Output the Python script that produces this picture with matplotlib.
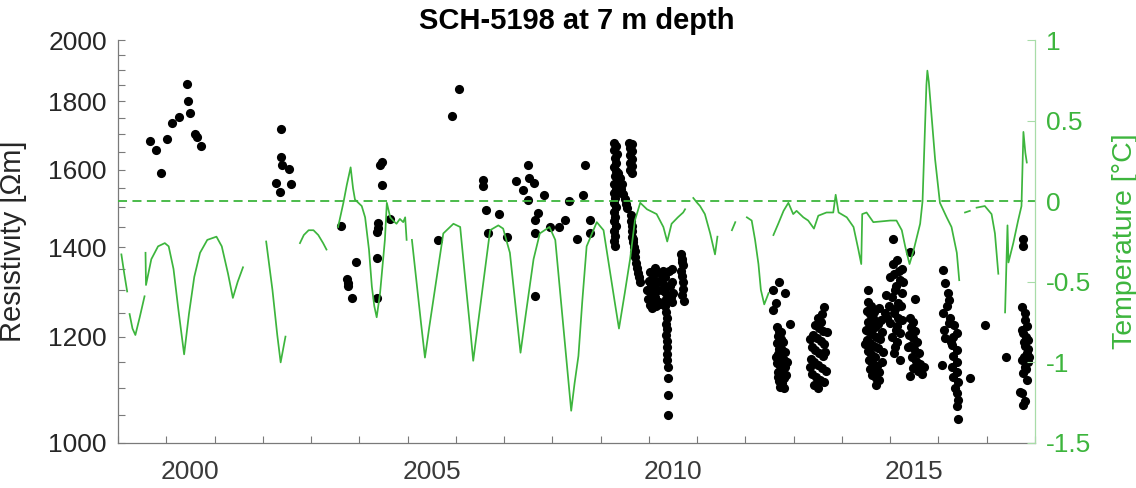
import numpy as np
import matplotlib
matplotlib.use('Agg')
import matplotlib.pyplot as plt
from matplotlib.ticker import NullFormatter

plt.rcParams['font.family'] = ['Liberation Sans', 'DejaVu Sans']

nan = np.nan

# --- temperature at 7 m (right axis), NaN marks logger gaps ---
temp_year = [
    1999.07, 1999.13, 1999.19, nan,
    1999.24, 1999.30, 1999.36, 1999.45, 1999.55, nan,
    1999.57, 1999.58, 1999.69, 1999.83, 1999.97, 2000.05, 2000.15, 2000.25, 2000.37, 2000.47,
    2000.58, 2000.70, 2000.85, 2001.04, 2001.15, 2001.28, 2001.38, 2001.48, 2001.59, nan,
    2002.07, 2002.20, 2002.30, 2002.37, 2002.42, 2002.47, nan,
    2002.77, 2002.85, 2002.95, 2003.05, 2003.15, 2003.25, 2003.32, nan,
    2003.56, 2003.67, 2003.74, 2003.82, 2003.87, 2003.91, 2004.05, 2004.12, 2004.20, 2004.26, 2004.31,
    2004.36, 2004.43, 2004.53, 2004.57, 2004.64, 2004.70, 2004.77, 2004.84, 2004.91, 2004.95, 2004.98, nan,
    2005.09, 2005.20, 2005.28, 2005.36, 2005.45, 2005.58, 2005.74, 2005.95,
    2006.09, 2006.20, 2006.30, 2006.36, 2006.45, 2006.58, 2006.71, 2006.88,
    2006.98, 2007.12, 2007.25, 2007.34, 2007.45, 2007.61, 2007.74, 2007.94,
    2008.06, 2008.20, 2008.32, 2008.39, 2008.46, 2008.54, 2008.62, 2008.71,
    2008.92, 2009.06, 2009.20, 2009.30, 2009.38, 2009.50, 2009.61, 2009.71,
    2009.82, 2009.96, 2010.16, 2010.30, 2010.38, 2010.47, 2010.60, 2010.71, 2010.75, nan,
    2010.92, 2011.00, 2011.06, 2011.16, 2011.27, 2011.37, 2011.42, nan,
    2011.72, 2011.79, nan,
    2012.03, 2012.13, 2012.20, 2012.27, 2012.32, 2012.39, 2012.48, nan,
    2012.58, 2012.68, 2012.79, 2012.89, 2012.99, 2013.06, 2013.20, 2013.30,
    2013.42, 2013.51, 2013.68, 2013.82, 2013.87, 2013.93, 2014.10, 2014.24,
    2014.34, 2014.40, 2014.42, 2014.51, 2014.65, 2015.00, 2015.13, 2015.24,
    2015.31, 2015.40, 2015.48, 2015.62, 2015.67, 2015.71, 2015.75, 2015.77,
    2015.80, 2015.86, 2015.93, 2016.03, 2016.17, 2016.27, 2016.38, 2016.43, nan,
    2016.55, 2016.65, nan,
    2016.79, 2016.96, 2017.10, 2017.17, 2017.24, nan,
    2017.38, 2017.43, 2017.45, 2017.55, 2017.65, 2017.72, 2017.76, 2017.80, 2017.83,
]
temp_val = [
    -0.33, -0.45, -0.56, nan,
    -0.70, -0.79, -0.83, -0.72, -0.59, nan,
    -0.32, -0.52, -0.36, -0.28, -0.26, -0.28, -0.42, -0.67, -0.95, -0.70,
    -0.47, -0.32, -0.24, -0.22, -0.28, -0.45, -0.60, -0.50, -0.41, nan,
    -0.25, -0.55, -0.83, -1.00, -0.92, -0.84, nan,
    -0.26, -0.21, -0.18, -0.18, -0.21, -0.26, -0.30, nan,
    -0.16, -0.01, 0.10, 0.21, 0.08, 0.01, -0.03, -0.10, -0.30, -0.53, -0.65,
    -0.72, -0.57, -0.24, -0.01, -0.10, -0.12, -0.14, -0.11, -0.13, -0.10, -0.24, nan,
    -0.24, -0.54, -0.76, -0.97, -0.78, -0.52, -0.20, -0.14,
    -0.16, -0.50, -0.80, -0.99, -0.78, -0.48, -0.18, -0.15,
    -0.17, -0.32, -0.69, -0.94, -0.70, -0.36, -0.20, -0.16,
    -0.24, -0.69, -1.08, -1.30, -1.13, -0.96, -0.62, -0.28,
    -0.13, -0.18, -0.45, -0.64, -0.79, -0.57, -0.36, -0.12,
    -0.01, -0.05, -0.08, -0.16, -0.25, -0.14, -0.10, -0.07, -0.05, nan,
    0.02, -0.01, -0.03, -0.08, -0.20, -0.33, -0.22, nan,
    -0.18, -0.13, nan,
    -0.10, -0.12, -0.24, -0.39, -0.55, -0.64, -0.57, nan,
    -0.21, -0.14, -0.06, -0.01, -0.08, -0.06, -0.10, -0.12,
    -0.17, -0.09, -0.07, -0.07, 0.04, -0.07, -0.10, -0.16,
    -0.30, -0.39, -0.08, -0.07, -0.13, -0.12, -0.12, -0.18,
    -0.28, -0.39, -0.31, -0.14, 0.00, 0.35, 0.72, 0.81,
    0.74, 0.52, 0.26, -0.01, -0.10, -0.16, -0.32, -0.49, nan,
    -0.07, -0.06, nan,
    -0.04, -0.03, -0.08, -0.20, -0.45, nan,
    -0.69, -0.15, -0.38, -0.26, -0.12, -0.03, 0.43, 0.30, 0.24,
]

# --- apparent resistivity (left axis, log) ---
sparse_year = [1999.67, 1999.79, 1999.90, 2000.02, 2000.12, 2000.26, 2000.42, 2000.45, 2000.50, 2000.59, 2000.64, 2000.73,
               2002.28, 2002.35, 2002.38, 2002.38, 2002.39, 2002.54, 2002.59,
               2003.63, 2003.74, 2003.76, 2003.76, 2003.84, 2003.93,
               2004.36, 2004.36, 2004.37, 2004.39, 2004.39, 2004.43, 2004.48, 2004.48, 2004.64,
               2005.64, 2005.93, 2006.07, 2006.57, 2006.57, 2006.62, 2006.67, 2006.90, 2007.05,
               2007.25, 2007.40, 2007.50, 2007.52, 2007.61, 2007.50, 2007.83, 2007.71, 2007.64, 2007.63, 2007.64,
               2007.95, 2008.14, 2008.26, 2008.35, 2008.50, 2008.68, 2008.64, 2008.77, 2008.78]
sparse_res = [1682, 1655, 1592, 1687, 1734, 1753, 1855, 1802, 1763, 1701, 1694, 1666,
              1564, 1540, 1715, 1636, 1612, 1602, 1562,
              1452, 1327, 1317, 1309, 1284, 1366,
              1374, 1284, 1437, 1459, 1447, 1614, 1622, 1559, 1471,
              1419, 1755, 1838, 1572, 1556, 1493, 1434, 1482, 1426,
              1568, 1545, 1614, 1577, 1564, 1519, 1532, 1486, 1467, 1434, 1287,
              1451, 1451, 1467, 1517, 1421, 1614, 1532, 1467, 1434]

c2009_year = [2009.27, 2009.31, 2009.28, 2009.33, 2009.29, 2009.32, 2009.27, 2009.31, 2009.29, 2009.33, 2009.28, 2009.31,
              2009.27, 2009.30, 2009.28, 2009.31, 2009.27, 2009.30, 2009.28, 2009.31, 2009.27, 2009.30, 2009.28, 2009.29,
              2009.59, 2009.64, 2009.61, 2009.65, 2009.60, 2009.64, 2009.61, 2009.65, 2009.60, 2009.64,
              2009.37, 2009.40, 2009.44, 2009.42, 2009.47, 2009.50, 2009.53, 2009.55, 2009.35, 2009.38,
              2009.62, 2009.63, 2009.64, 2009.65, 2009.66, 2009.67, 2009.69, 2009.70, 2009.72, 2009.74, 2009.76, 2009.78,
              2009.80, 2009.82, 2009.68, 2009.71]
c2009_res = [1676, 1668, 1655, 1645, 1632, 1620, 1608, 1596, 1584, 1572, 1560, 1548,
             1536, 1524, 1512, 1500, 1488, 1476, 1464, 1452, 1440, 1428, 1416, 1404,
             1676, 1672, 1660, 1652, 1640, 1630, 1618, 1610, 1598, 1590,
             1592, 1578, 1562, 1548, 1535, 1522, 1508, 1498, 1570, 1540,
             1480, 1466, 1452, 1440, 1426, 1412, 1400, 1388, 1376, 1364, 1352, 1340,
             1330, 1320, 1420, 1392]

c2010_year = [2009.97, 2009.99, 2010.00, 2010.02, 2010.03, 2010.05, 2010.07, 2010.08, 2010.10, 2010.12,
              2010.13, 2010.15, 2010.17, 2010.18, 2010.20, 2010.21, 2010.04, 2010.11, 2010.16, 2010.06,
              2010.30, 2010.33, 2010.31, 2010.34, 2010.35, 2010.33, 2010.36, 2010.37, 2010.35, 2010.38,
              2010.36, 2010.38, 2010.37, 2010.38, 2010.38, 2010.39, 2010.39, 2010.39, 2010.40,
              2010.26, 2010.28, 2010.24, 2010.42, 2010.44, 2010.46, 2010.47, 2010.48, 2010.49, 2010.47,
              2010.66, 2010.68, 2010.70, 2010.67, 2010.69, 2010.71, 2010.70, 2010.68, 2010.72, 2010.69]
c2010_res = [1300, 1280, 1322, 1268, 1342, 1295, 1262, 1332, 1310, 1352,
             1286, 1265, 1342, 1300, 1322, 1275, 1310, 1290, 1320, 1280,
             1345, 1330, 1312, 1296, 1282, 1266, 1252, 1240, 1228, 1216,
             1204, 1192, 1180, 1166, 1153, 1139, 1118, 1086, 1049,
             1340, 1300, 1270, 1345, 1310, 1285, 1350, 1320, 1295, 1275,
             1385, 1372, 1358, 1345, 1332, 1318, 1304, 1290, 1276, 1365]

c2012_year = [2012.70, 2012.57, 2012.82, 2012.63, 2012.57, 2012.92,
              2012.66, 2012.70, 2012.68, 2012.73, 2012.66, 2012.71, 2012.76, 2012.68, 2012.73, 2012.79,
              2012.66, 2012.71, 2012.76, 2012.68, 2012.74, 2012.79, 2012.70, 2012.76, 2012.72, 2012.80,
              2012.69, 2012.75, 2012.82, 2012.78, 2012.64, 2012.84, 2012.81, 2012.67, 2012.74, 2012.86]
c2012_res = [1319, 1301, 1294, 1273, 1257, 1227,
             1220, 1212, 1203, 1196, 1188, 1180, 1174, 1166, 1160, 1154,
             1148, 1142, 1136, 1130, 1124, 1119, 1113, 1108, 1102, 1100,
             1176, 1150, 1140, 1190, 1160, 1125, 1170, 1120, 1210, 1150]

c2013_year = [2013.63, 2013.58, 2013.50, 2013.56, 2013.44, 2013.52, 2013.60, 2013.40, 2013.48, 2013.56,
              2013.63, 2013.37, 2013.45, 2013.53, 2013.61, 2013.35, 2013.43, 2013.51, 2013.59, 2013.66,
              2013.38, 2013.46, 2013.54, 2013.62, 2013.42, 2013.50, 2013.34, 2013.65, 2013.33, 2013.68]
c2013_res = [1263, 1248, 1240, 1232, 1225, 1218, 1212, 1205, 1198, 1192,
             1186, 1180, 1174, 1168, 1162, 1156, 1150, 1144, 1138, 1132,
             1126, 1120, 1114, 1110, 1104, 1100, 1140, 1170, 1195, 1210]

c2014_year = [2014.55, 2014.55, 2014.52, 2014.58, 2014.64, 2014.53, 2014.60, 2014.68, 2014.55, 2014.62,
              2014.70, 2014.52, 2014.58, 2014.66, 2014.74, 2014.54, 2014.61, 2014.69, 2014.56, 2014.63,
              2014.72, 2014.58, 2014.66, 2014.62, 2014.70, 2014.70, 2014.76, 2014.76, 2014.89, 2014.80,
              2014.84, 2014.78, 2014.86, 2014.82, 2014.60, 2014.66, 2014.74, 2014.50, 2014.48, 2014.76,
              2014.92, 2014.97, 2014.94]
c2014_res = [1300, 1275, 1255, 1248, 1240, 1232, 1226, 1220, 1212, 1206,
             1200, 1194, 1188, 1182, 1178, 1172, 1166, 1160, 1154, 1148,
             1142, 1136, 1130, 1124, 1118, 1105, 1114, 1261, 1250, 1235,
             1210, 1195, 1170, 1150, 1265, 1252, 1228, 1215, 1185, 1130,
             1290, 1265, 1240]

c2015_year = [2015.05, 2015.41, 2015.14, 2015.24, 2015.07, 2015.20, 2015.10, 2015.24, 2015.17, 2015.07,
              2015.24, 2015.14, 2015.20, 2015.03, 2015.07, 2015.20, 2015.51,
              2015.00, 2015.12, 2015.18, 2015.10, 2015.16, 2015.03, 2015.22, 2015.12, 2015.00, 2015.27,
              2015.05, 2015.15, 2015.09,
              2015.40, 2015.48, 2015.44, 2015.52, 2015.38, 2015.47, 2015.56, 2015.42, 2015.50, 2015.60,
              2015.45, 2015.54, 2015.62, 2015.48, 2015.57, 2015.66, 2015.41, 2015.70, 2015.36]
c2015_res = [1421, 1390, 1370, 1350, 1338, 1324, 1301, 1294, 1272, 1250,
             1236, 1222, 1208, 1201, 1168, 1153, 1281,
             1330, 1310, 1345, 1260, 1240, 1285, 1265, 1215, 1230, 1320,
             1360, 1190, 1180,
             1240, 1232, 1220, 1212, 1205, 1198, 1190, 1182, 1175, 1168,
             1160, 1152, 1145, 1138, 1132, 1126, 1122, 1140, 1180]

c2016_year = [2016.10, 2016.14, 2016.19, 2016.21, 2016.10, 2016.21, 2016.14, 2016.31, 2016.38, 2016.28, 2016.38, 2016.07,
              2016.31, 2016.38, 2016.28, 2016.38, 2016.31, 2016.41, 2016.35, 2016.38, 2016.41, 2016.38, 2016.41,
              2016.65, 2016.96, 2017.39,
              2016.17, 2016.24, 2016.12, 2016.26, 2016.33]
c2016_res = [1347, 1316, 1294, 1279, 1250, 1229, 1198, 1201, 1208, 1184, 1174, 1143,
             1161, 1150, 1140, 1130, 1121, 1111, 1099, 1090, 1077, 1065, 1043,
             1118, 1224, 1160,
             1265, 1240, 1215, 1190, 1225]

c2017_year = [2017.76, 2017.76, 2017.74,
              2017.79, 2017.83, 2017.76, 2017.86, 2017.79, 2017.83, 2017.73, 2017.86, 2017.79, 2017.76, 2017.83,
              2017.73, 2017.79, 2017.76, 2017.69,
              2017.80, 2017.82, 2017.78, 2017.81, 2017.85, 2017.74, 2017.77, 2017.88]
c2017_res = [1421, 1403, 1264,
             1236, 1222, 1208, 1194, 1181, 1168, 1153, 1150, 1140, 1127, 1114,
             1090, 1074, 1068, 1092,
             1250, 1200, 1160, 1135, 1175, 1215, 1190, 1160]

res_year = (sparse_year + c2009_year + c2010_year + c2012_year + c2013_year
            + c2014_year + c2015_year + c2016_year + c2017_year)
res_val = (sparse_res + c2009_res + c2010_res + c2012_res + c2013_res
           + c2014_res + c2015_res + c2016_res + c2017_res)

res_ticks = [1000, 1200, 1400, 1600, 1800, 2000]
res_minor = [1050, 1100, 1150, 1250, 1300, 1350, 1450, 1500, 1550, 1650, 1700, 1750, 1850, 1900, 1950]
temp_ticks = [-1.5, -1, -0.5, 0, 0.5, 1]
temp_labels = ['-1.5', '-1', '-0.5', '0', '0.5', '1']
year_labels = ['2000', '2005', '2010', '2015']
year_label_pos = [2000.5, 2005.5, 2010.5, 2015.5]

GREEN = '#3db53d'
GREY = '#7a7a7a'

fig = plt.figure(figsize=(11.36, 4.88), dpi=100)
ax = fig.add_axes([118 / 1136, 45 / 488, 917 / 1136, 403 / 488])

ax.set_yscale('log')
ax.plot(res_year, res_val, 'o', color='black', ms=6.6, mew=0)
ax.set_xlim(1999, 2018)
ax.set_ylim(1000, 2000)
ax.set_yticks(res_ticks, [str(t) for t in res_ticks])
ax.set_yticks(res_minor, minor=True)
ax.yaxis.set_minor_formatter(NullFormatter())
ax.set_xticks(year_label_pos, year_labels)
ax.set_xticks(list(range(1999, 2019)), minor=True)

ax.tick_params(axis='y', which='both', direction='in', length=5, width=0.8,
               color=GREY, labelsize=19, labelcolor='#262626', pad=8)
ax.tick_params(axis='x', which='major', length=0, labelsize=19, labelcolor='#3a3a3a', pad=12)
ax.tick_params(axis='x', which='minor', direction='in', length=5, width=0.8, color=GREY)

for side in ['top', 'right']:
    ax.spines[side].set_visible(False)
for side in ['left', 'bottom']:
    ax.spines[side].set_color(GREY)
    ax.spines[side].set_linewidth(0.9)

ax.set_ylabel('Resistivity [Ωm]', fontsize=21, color='#262626')
ax.yaxis.set_label_coords(-0.099, 0.5)
ax.set_title('SCH-5198 at 7 m depth', fontsize=21, fontweight='bold', pad=8)

ax2 = ax.twinx()
ax2.plot(temp_year, temp_val, color=GREEN, lw=1.25)
ax2.axhline(0, color=GREEN, lw=1.3, ls=(0, (5, 3)))
ax2.set_ylim(-1.5, 1)
ax2.set_yticks(temp_ticks, temp_labels)
ax2.tick_params(axis='y', direction='in', length=6, width=0.8, color='#a8dca8',
                labelsize=19, labelcolor=GREEN, pad=8)
for side in ['top', 'left', 'bottom']:
    ax2.spines[side].set_visible(False)
ax2.spines['right'].set_color('#a8dca8')
ax2.spines['right'].set_linewidth(0.9)
ax2.set_ylabel('Temperature [°C]', fontsize=20.5, color=GREEN)
ax2.yaxis.set_label_coords(1.084, 0.5)

fig.savefig('out.png', dpi=100, facecolor='white')
